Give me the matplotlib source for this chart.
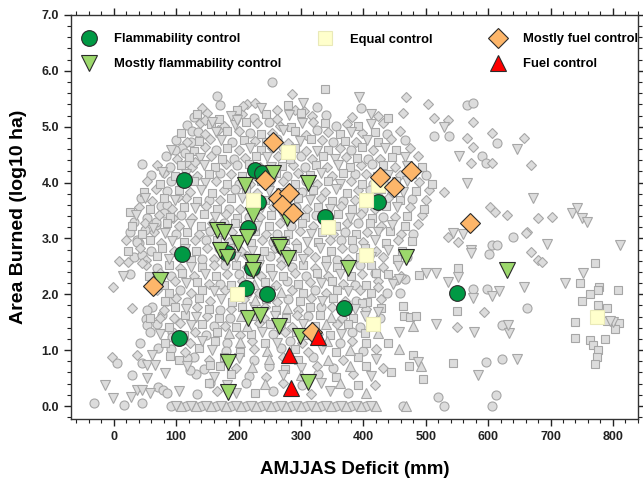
import matplotlib
matplotlib.use("Agg")
import matplotlib.pyplot as plt
from matplotlib.lines import Line2D
from matplotlib.ticker import MultipleLocator, FormatStrFormatter

plt.rcParams['font.family'] = ['Liberation Sans', 'DejaVu Sans']
plt.rcParams['font.weight'] = 'bold'

# ---- background (grey) fire-year points, by marker shape ----
gray_circles = [
    (170, 5.38), (326, 5.36), (128, 5.18), (224, 5.15), (340, 5.21),
    (118, 5.03), (248, 5.08), (356, 5.02), (126, 4.92), (218, 4.89), (326, 4.94), (438, 4.86),
    (100, 4.77), (190, 4.73), (262, 4.78), (352, 4.72), (466, 4.76),
    (110, 4.62), (164, 4.59), (272, 4.63), (380, 4.58),
    (84, 4.47), (192, 4.43), (300, 4.48), (408, 4.42),
    (90, 4.27), (198, 4.32), (306, 4.28), (414, 4.33),
    (60, 4.13), (170, 4.17), (278, 4.12), (386, 4.16), (500, 4.13),
    (92, 4.03), (200, 3.98), (308, 4.02), (416, 3.97),
    (86, 3.84), (194, 3.88), (302, 3.83), (410, 3.87),
    (44, 3.72), (152, 3.68), (260, 3.73), (368, 3.67), (478, 3.71),
    (76, 3.58), (184, 3.53), (292, 3.57), (400, 3.52),
    (54, 3.37), (108, 3.42), (216, 3.38), (324, 3.42), (432, 3.38),
    (68, 3.24), (176, 3.28), (284, 3.23), (392, 3.27),
    (26, 3.12), (100, 3.08), (154, 3.13), (262, 3.07), (370, 3.12), (480, 3.08),
    (40, 2.92), (148, 2.97), (256, 2.93), (364, 2.98),
    (60, 2.77), (168, 2.82), (276, 2.78), (384, 2.83),
    (32, 2.67), (142, 2.63), (250, 2.68), (358, 2.62), (470, 2.66),
    (70, 2.47), (178, 2.52), (286, 2.48), (394, 2.53),
    (92, 2.32), (200, 2.37), (308, 2.33), (418, 2.38),
    (62, 2.22), (170, 2.18), (278, 2.23), (386, 2.17),
    (106, 2.08), (214, 2.02), (322, 2.07), (438, 2.03),
    (118, 1.87), (280, 1.92), (388, 1.88),
    (62, 1.77), (170, 1.72), (332, 1.78),
    (78, 1.63), (186, 1.58), (312, 1.62), (426, 1.58),
    (70, 1.47), (160, 1.43), (268, 1.48), (394, 1.42),
    (94, 1.32), (148, 1.27), (256, 1.28), (382, 1.32),
    (102, 1.17), (182, 1.12), (282, 1.17), (362, 1.12),
    (92, 1.02), (180, 0.98), (268, 1.03), (400, 0.98),
    (128, 0.87), (224, 0.83), (320, 0.87),
    (144, 0.67), (248, 0.72), (352, 0.68),
    (132, 0.57), (216, 0.53), (328, 0.57),
    (212, 0.42), (302, 0.38), (134, 0.22), (256, 0.27), (376, 0.23),
    (92, 0), (116, 0), (140, 0), (164, 0), (188, 0), (212, 0), (236, 0), (260, 0),
    (284, 0), (308, 0), (332, 0), (356, 0), (380, 0), (404, 0),
    # outer points
    (165, 5.55), (253, 5.80), (45, 4.34), (98, 4.58), (114, 4.53), (123, 4.72), (135, 4.90),
    (119, 4.35), (85, 3.60), (80, 3.45), (67, 3.29), (50, 3.15), (38, 2.98), (32, 3.30),
    (566, 5.38), (575, 5.42), (397, 5.33), (513, 4.83), (538, 4.83), (614, 4.70), (590, 4.47),
    (596, 4.35), (607, 2.88), (615, 2.88), (640, 3.02), (601, 2.72), (663, 1.75), (575, 2.09),
    (599, 2.09), (458, 2.02), (453, 2.25), (466, 2.27), (623, 1.45), (622, 0.84), (596, 0.79),
    (519, 0.16), (529, 0.0), (612, 0.20), (607, 0.0), (463, 0.0), (38, 2.93), (46, 2.70),
    (26, 2.36), (54, 1.72), (51, 1.56), (53, 1.45), (58, 1.32), (42, 1.13), (71, 1.04),
    (5, 0.77), (45, 0.77), (30, 0.55), (-32, 0.05), (16, 0.02), (46, 0.05), (71, 0.34),
    (79, 0.29), (85, 0.23), (85, 1.88), (93, 1.88), (93, 1.23), (117, 0.86), (122, 0.64),
    (155, 0.41),
]

gray_diamonds = [
    (142, 5.33), (214, 5.41), (262, 5.30), (305, 5.28),
    (150, 5.24), (206, 5.23), (262, 5.14), (318, 5.19), (382, 5.17),
    (138, 5.07), (176, 5.01), (230, 5.06), (266, 5.02), (320, 5.09), (374, 5.04), (432, 5.06),
    (146, 4.87), (200, 4.92), (254, 4.88), (308, 4.85), (344, 4.91), (398, 4.88), (458, 4.93),
    (118, 4.72), (154, 4.78), (226, 4.74), (280, 4.71), (334, 4.77), (388, 4.73), (444, 4.78),
    (146, 4.63), (200, 4.58), (254, 4.61), (308, 4.57), (362, 4.62), (416, 4.59), (474, 4.61),
    (102, 4.42), (156, 4.47), (210, 4.44), (264, 4.48), (318, 4.43), (372, 4.46), (426, 4.42), (488, 4.47),
    (70, 4.32), (126, 4.28), (180, 4.33), (234, 4.27), (288, 4.31), (342, 4.28), (396, 4.32), (450, 4.27),
    (80, 4.17), (134, 4.12), (188, 4.16), (242, 4.13), (296, 4.17), (350, 4.12), (404, 4.16), (458, 4.13),
    (54, 4.02), (110, 3.98), (164, 4.03), (218, 3.97), (272, 4.02), (326, 3.98), (380, 4.03), (434, 3.97), (490, 4.01),
    (68, 3.88), (122, 3.83), (176, 3.87), (230, 3.82), (284, 3.88), (338, 3.83), (392, 3.87), (446, 3.82), (506, 3.86),
    (62, 3.67), (116, 3.72), (170, 3.68), (224, 3.73), (278, 3.67), (332, 3.72), (386, 3.68), (440, 3.73), (500, 3.69),
    (40, 3.57), (94, 3.52), (148, 3.58), (202, 3.53), (256, 3.57), (310, 3.52), (364, 3.58), (418, 3.53), (474, 3.57),
    (72, 3.42), (126, 3.37), (180, 3.43), (234, 3.38), (288, 3.42), (342, 3.37), (396, 3.43), (450, 3.38), (494, 3.42),
    (50, 3.28), (104, 3.23), (158, 3.27), (212, 3.22), (266, 3.28), (320, 3.23), (374, 3.27), (428, 3.22), (488, 3.26),
    (64, 3.12), (136, 3.07), (190, 3.12), (244, 3.08), (298, 3.13), (352, 3.07), (406, 3.12), (460, 3.08),
    (20, 2.97), (76, 2.92), (130, 2.98), (184, 2.93), (238, 2.97), (292, 2.92), (346, 2.98), (400, 2.93), (456, 2.97),
    (42, 2.83), (96, 2.78), (150, 2.82), (204, 2.77), (258, 2.83), (312, 2.78), (366, 2.82), (420, 2.78),
    (52, 2.62), (106, 2.67), (160, 2.63), (214, 2.68), (268, 2.62), (322, 2.67), (376, 2.63), (432, 2.67),
    (52, 2.52), (106, 2.47), (160, 2.53), (214, 2.48), (268, 2.52), (322, 2.47), (376, 2.53), (432, 2.48),
    (74, 2.38), (128, 2.33), (182, 2.37), (236, 2.32), (290, 2.38), (344, 2.33), (398, 2.37), (460, 2.33),
    (98, 2.23), (152, 2.18), (206, 2.23), (260, 2.17), (314, 2.22), (368, 2.18), (424, 2.23),
    (70, 2.07), (124, 2.02), (178, 2.08), (232, 2.03), (286, 2.07), (340, 2.02), (394, 2.08),
    (100, 1.93), (154, 1.88), (208, 1.92), (262, 1.87), (316, 1.93), (370, 1.88), (428, 1.92),
    (80, 1.72), (134, 1.77), (188, 1.73), (242, 1.78), (296, 1.72), (350, 1.77), (404, 1.73),
    (96, 1.57), (150, 1.62), (240, 1.57), (294, 1.63), (366, 1.58),
    (106, 1.48), (178, 1.43), (232, 1.48), (286, 1.42), (358, 1.46), (418, 1.43),
    (130, 1.33), (202, 1.27), (274, 1.33), (328, 1.28),
    (122, 1.12), (222, 1.17), (302, 1.13), (382, 1.17),
    (114, 0.97), (224, 1.02), (312, 0.97), (420, 1.02),
    (152, 0.82), (272, 0.87), (368, 0.83),
    (196, 0.68), (326, 0.72), (432, 0.68),
    (244, 0.52), (384, 0.57), (272, 0.42), (418, 0.38), (166, 0.27), (316, 0.22),
    # outer points
    (285, 5.58), (290, 5.30), (207, 5.37), (226, 5.42), (147, 5.12), (167, 4.94), (130, 4.37),
    (103, 3.74), (95, 3.36), (469, 5.53), (503, 5.40), (423, 5.19), (463, 5.24), (514, 5.15),
    (535, 5.12), (575, 5.08), (606, 4.88), (657, 4.79), (607, 4.35), (668, 4.31), (566, 4.79),
    (575, 4.63), (573, 4.35), (530, 3.83), (603, 3.56), (611, 3.47), (630, 3.42), (680, 3.36),
    (702, 3.38), (662, 3.11), (668, 2.75), (680, 2.61), (686, 2.58), (660, 3.10), (535, 3.02),
    (551, 2.93), (593, 1.68), (550, 1.41), (423, 2.13), (8, 2.59), (22, 2.58), (45, 2.56),
    (-2, 2.13), (30, 1.75), (74, 1.57), (-3, 0.88), (38, 0.91),
]

gray_squares = [
    (198, 5.30), (280, 5.39), (168, 5.13), (244, 5.22), (300, 5.25), (440, 5.16),
    (156, 5.05), (212, 5.09), (284, 5.00), (338, 5.06), (392, 5.01),
    (108, 4.88), (182, 4.93), (236, 4.86), (290, 4.92), (362, 4.87), (418, 4.91),
    (136, 4.74), (208, 4.77), (244, 4.72), (316, 4.78), (370, 4.74), (424, 4.72),
    (128, 4.57), (182, 4.61), (236, 4.58), (290, 4.62), (344, 4.59), (398, 4.63), (452, 4.58),
    (120, 4.46), (174, 4.42), (228, 4.47), (282, 4.43), (336, 4.48), (390, 4.44), (446, 4.46),
    (108, 4.31), (162, 4.27), (216, 4.33), (270, 4.29), (324, 4.32), (378, 4.27), (432, 4.31), (494, 4.28),
    (98, 4.12), (152, 4.16), (206, 4.12), (260, 4.17), (314, 4.13), (368, 4.17), (422, 4.12), (478, 4.16),
    (74, 3.97), (128, 4.02), (182, 3.98), (236, 4.03), (290, 3.97), (344, 4.02), (398, 3.98), (452, 4.03), (510, 3.98),
    (48, 3.83), (104, 3.87), (158, 3.82), (212, 3.88), (266, 3.83), (320, 3.87), (374, 3.82), (428, 3.88), (484, 3.84),
    (80, 3.72), (134, 3.67), (188, 3.73), (242, 3.68), (296, 3.72), (350, 3.67), (404, 3.73), (458, 3.68),
    (58, 3.52), (112, 3.57), (166, 3.53), (220, 3.58), (274, 3.52), (328, 3.57), (382, 3.53), (436, 3.58), (498, 3.53),
    (90, 3.38), (144, 3.43), (198, 3.37), (252, 3.42), (306, 3.38), (360, 3.43), (414, 3.37), (470, 3.41),
    (30, 3.23), (86, 3.27), (140, 3.22), (194, 3.28), (248, 3.23), (302, 3.27), (356, 3.22), (410, 3.28), (466, 3.23),
    (46, 3.07), (118, 3.12), (172, 3.08), (226, 3.13), (280, 3.07), (334, 3.12), (388, 3.08), (442, 3.13),
    (58, 2.98), (112, 2.93), (166, 2.97), (220, 2.92), (274, 2.98), (328, 2.93), (382, 2.97), (436, 2.92), (478, 2.96),
    (22, 2.78), (78, 2.83), (132, 2.77), (186, 2.82), (240, 2.78), (294, 2.83), (348, 2.77), (402, 2.82), (462, 2.78),
    (70, 2.68), (124, 2.62), (178, 2.67), (232, 2.63), (286, 2.68), (340, 2.62), (394, 2.67), (454, 2.63),
    (88, 2.53), (142, 2.48), (196, 2.52), (250, 2.47), (304, 2.53), (358, 2.48), (412, 2.52),
    (56, 2.33), (110, 2.38), (164, 2.32), (218, 2.37), (272, 2.33), (326, 2.38), (380, 2.32), (440, 2.37),
    (80, 2.17), (134, 2.22), (188, 2.17), (242, 2.22), (296, 2.18), (350, 2.23), (404, 2.17),
    (88, 2.02), (142, 2.07), (196, 2.03), (250, 2.08), (304, 2.02), (358, 2.07), (412, 2.03),
    (82, 1.88), (136, 1.93), (190, 1.87), (244, 1.92), (298, 1.88), (352, 1.93), (406, 1.87),
    (98, 1.77), (152, 1.73), (206, 1.78), (260, 1.72), (314, 1.77), (368, 1.73), (428, 1.76),
    (58, 1.58), (114, 1.63), (168, 1.57), (222, 1.62), (276, 1.58), (330, 1.63), (384, 1.57),
    (88, 1.42), (142, 1.47), (196, 1.42), (250, 1.47), (322, 1.43), (376, 1.47),
    (112, 1.27), (166, 1.32), (220, 1.28), (292, 1.32), (346, 1.27), (402, 1.31),
    (82, 1.13), (162, 1.17), (242, 1.12), (322, 1.17), (404, 1.13),
    (136, 1.03), (202, 0.97), (290, 1.02), (356, 0.97),
    (104, 0.83), (176, 0.87), (296, 0.83), (392, 0.88),
    (170, 0.72), (274, 0.67), (404, 0.72),
    (188, 0.57), (356, 0.52), (152, 0.42), (392, 0.38), (226, 0.23),
    # outer points
    (338, 5.67), (133, 5.22), (26, 3.47), (772, 2.56), (748, 2.20), (777, 2.13), (776, 2.08),
    (764, 2.00), (808, 2.08), (750, 1.88), (776, 1.81), (791, 1.75), (740, 1.50), (809, 1.48),
    (804, 1.37), (739, 1.22), (763, 1.18), (768, 1.09), (776, 1.00), (774, 0.88), (771, 0.75),
    (788, 1.20), (780, 1.55), (790, 1.52), (543, 0.77), (495, 0.48), (445, 0.61), (551, 2.47),
    (550, 1.70), (463, 1.79), (465, 1.61), (474, 1.59), (485, 1.61), (439, 1.13), (480, 0.91),
    (473, 0.72), (421, 2.38), (398, 1.84), (489, 2.34), (90, 0.89), (154, 0.73),
]

gray_down = [
    (236, 5.34), (188, 5.20), (281, 5.21), (412, 5.23), (194, 5.03), (302, 5.07), (412, 5.05),
    (164, 4.91), (272, 4.94), (380, 4.90), (172, 4.76), (298, 4.74), (406, 4.77),
    (92, 4.58), (218, 4.62), (326, 4.57), (434, 4.61), (138, 4.44), (246, 4.46), (354, 4.42), (466, 4.45),
    (144, 4.32), (252, 4.28), (360, 4.31), (470, 4.29), (116, 4.16), (224, 4.13), (332, 4.17), (440, 4.14),
    (146, 3.99), (254, 4.03), (362, 3.98), (470, 4.02), (140, 3.86), (248, 3.84), (356, 3.88), (464, 3.83),
    (98, 3.69), (206, 3.72), (314, 3.68), (422, 3.72), (130, 3.54), (238, 3.57), (346, 3.53), (454, 3.56),
    (36, 3.42), (162, 3.38), (270, 3.43), (378, 3.37), (122, 3.26), (230, 3.22), (338, 3.27), (446, 3.24),
    (82, 3.09), (208, 3.11), (316, 3.08), (424, 3.12), (94, 2.95), (202, 2.98), (310, 2.93), (418, 2.97),
    (114, 2.81), (222, 2.78), (330, 2.82), (440, 2.79), (88, 2.64), (196, 2.66), (304, 2.63), (412, 2.67),
    (124, 2.49), (232, 2.52), (340, 2.48), (456, 2.51), (146, 2.36), (254, 2.33), (362, 2.37),
    (116, 2.20), (332, 2.21), (448, 2.19), (160, 2.05), (376, 2.06), (172, 1.91), (334, 1.88),
    (116, 1.74), (224, 1.77), (386, 1.74), (132, 1.60), (258, 1.62), (402, 1.61),
    (124, 1.45), (304, 1.47), (74, 1.28), (238, 1.32), (364, 1.28), (142, 1.16), (262, 1.13),
    (158, 1.00), (334, 1.02), (200, 0.86), (420, 0.84), (118, 0.72), (300, 0.68),
    (160, 0.52), (272, 0.56), (412, 0.53), (182, 0.38), (332, 0.42), (104, 0.27), (196, 0.23), (346, 0.27),
    (100, 0), (124, 0), (148, 0), (172, 0), (196, 0), (220, 0), (244, 0), (268, 0),
    (292, 0), (316, 0), (340, 0), (364, 0), (388, 0), (412, 0),
    # outer points
    (303, 5.42), (157, 5.08), (197, 5.12), (78, 4.19), (50, 3.72), (63, 3.18), (393, 5.53),
    (530, 5.00), (647, 4.60), (553, 4.47), (566, 4.00), (672, 3.72), (734, 3.45), (742, 3.54),
    (750, 3.36), (758, 3.29), (695, 2.90), (811, 2.88), (752, 2.38), (724, 2.20), (800, 1.50),
    (795, 1.52), (646, 0.84), (583, 0.55), (575, 1.93), (607, 1.97), (617, 2.06), (657, 2.13),
    (633, 1.31), (632, 1.45), (577, 1.32), (516, 1.47), (457, 1.32), (457, 2.27), (500, 2.38),
    (517, 2.38), (535, 2.22), (551, 2.31), (573, 2.79), (573, 2.74), (543, 3.10), (559, 3.07),
    (488, 0.79), (423, 1.68), (15, 2.33), (62, 0.91), (54, 0.73), (66, 0.73), (53, 0.50),
    (82, 0.59), (-14, 0.38), (-2, 0.14), (27, 0.16), (37, 0.29), (45, 0.29), (58, 0.23),
]

gray_up = [
    (224, 2.18), (268, 2.04), (226, 1.90), (278, 1.76), (204, 1.61), (348, 1.59),
    (214, 1.44), (340, 1.46), (184, 1.30), (310, 1.29), (424, 1.30), (202, 1.14), (342, 1.16),
    (246, 0.99), (378, 1.01), (248, 0.85), (344, 0.83), (222, 0.70), (378, 0.71), (300, 0.55),
    (242, 0.39), (362, 0.41), (286, 0.26), (404, 0.24),
    (108, 0), (132, 0), (156, 0), (180, 0), (204, 0), (228, 0), (252, 0), (276, 0),
    (300, 0), (324, 0), (348, 0), (372, 0), (396, 0), (420, 0),
    (469, 0.0), (480, 1.43), (457, 1.02), (492, 0.72),
]

# ---- highlighted fires, by class ----
flam_x = [112, 109, 104, 226, 237, 231, 215, 212, 245, 369, 550, 338, 423, 181, 221]
flam_y = [4.04, 2.72, 1.22, 4.22, 4.17, 3.65, 3.18, 2.11, 2.00, 1.75, 2.02, 3.38, 3.65, 2.73, 2.47]

mflam_x = [74, 210, 255, 311, 223, 277, 165, 176, 199, 213, 263, 170, 181, 221, 223, 266, 279,
           215, 234, 265, 298, 183, 183, 311, 375, 469, 630]
mflam_y = [2.25, 3.95, 4.17, 4.00, 3.42, 3.36, 3.15, 3.12, 2.92, 3.02, 2.88, 2.79, 2.67, 2.58, 2.43,
           2.85, 2.65, 1.57, 1.63, 1.43, 1.25, 0.79, 0.25, 0.43, 2.47, 2.67, 2.43]

equal_x = [279, 223, 343, 404, 423, 197, 404, 415, 774]
equal_y = [4.55, 3.68, 3.20, 3.68, 3.95, 2.00, 2.70, 1.47, 1.59]

mfuel_x = [255, 243, 263, 281, 269, 288, 426, 449, 477, 571, 63, 317]
mfuel_y = [4.72, 4.04, 3.72, 3.81, 3.60, 3.45, 4.10, 3.92, 4.20, 3.27, 2.15, 1.32]

fuel_x = [281, 327, 284]
fuel_y = [0.91, 1.24, 0.32]

fig = plt.figure(figsize=(6.43, 4.82), dpi=100)
ax = fig.add_axes([0.110, 0.131, 0.882, 0.838])

gface = '#dcdcdc'
gedge = '#a6a6a6'
for pts, mk, ms in [(gray_circles, 'o', 6.5), (gray_diamonds, 'D', 5.0), (gray_squares, 's', 5.2),
                    (gray_down, 'v', 6.5), (gray_up, '^', 6.5)]:
    xs = [p[0] for p in pts]
    ys = [p[1] for p in pts]
    ax.plot(xs, ys, ls='none', marker=mk, ms=ms, mfc=gface, mec=gedge, mew=0.8)

ec = '#2b2b2b'
ax.plot(flam_x, flam_y, ls='none', marker='o', ms=11.3, mfc='#009944', mec=ec, mew=0.8)
ax.plot(mflam_x, mflam_y, ls='none', marker='v', ms=11.3, mfc='#9cd86c', mec=ec, mew=0.8)
ax.plot(equal_x, equal_y, ls='none', marker='s', ms=9.6, mfc='#ffffcc', mec='#e9e9b8', mew=0.8)
ax.plot(mfuel_x, mfuel_y, ls='none', marker='D', ms=10.0, mfc='#fdb66a', mec=ec, mew=0.8)
ax.plot(fuel_x, fuel_y, ls='none', marker='^', ms=11.3, mfc='#ff0000', mec=ec, mew=0.8)

ax.set_xlim(-69, 840)
ax.set_ylim(-0.23, 7.0)
ax.xaxis.set_major_locator(MultipleLocator(100))
ax.xaxis.set_minor_locator(MultipleLocator(20))
ax.yaxis.set_major_locator(MultipleLocator(1))
ax.yaxis.set_minor_locator(MultipleLocator(0.2))
ax.yaxis.set_major_formatter(FormatStrFormatter('%.1f'))
ax.set_xticks(range(0, 801, 100))
ax.tick_params(which='both', left=True, bottom=True, top=True, right=True,
               labelsize=9, direction='out', colors='#222222')
ax.tick_params(which='major', length=5, width=1)
ax.tick_params(which='minor', length=3, width=0.8)
for lab in ax.get_xticklabels() + ax.get_yticklabels():
    lab.set_fontweight('bold')
for s in ax.spines.values():
    s.set_color('#333333')
    s.set_linewidth(1)

ax.set_xlabel('AMJJAS Deficit (mm)', fontsize=13.5, fontweight='bold', labelpad=13)
ax.set_ylabel('Area Burned (log10 ha)', fontsize=14, fontweight='bold', labelpad=10)

def handle(mk, ms, fc, mec):
    return Line2D([], [], ls='none', marker=mk, ms=ms, mfc=fc, mec=mec, mew=0.8)

leg_kw = dict(frameon=False, loc='upper left', borderpad=0, handlelength=1.2, handletextpad=1.25,
              labelspacing=0.98, prop={'weight': 'bold', 'size': 9.4}, numpoints=1,
              bbox_transform=fig.transFigure)
l1 = ax.legend([handle('o', 11.3, '#009944', ec), handle('v', 11.3, '#9cd86c', ec)],
               ['Flammability control', 'Mostly flammability control'],
               bbox_to_anchor=(75 / 643, 1 - 26.5 / 482), **leg_kw)
ax.add_artist(l1)
l2 = ax.legend([handle('s', 9.6, '#ffffcc', '#e9e9b8')], ['Equal control'],
               bbox_to_anchor=(311 / 643, 1 - 27 / 482), **leg_kw)
ax.add_artist(l2)
ax.legend([handle('D', 10.0, '#fdb66a', ec), handle('^', 11.3, '#ff0000', ec)],
          ['Mostly fuel control', 'Fuel control'],
          bbox_to_anchor=(484 / 643, 1 - 26.5 / 482), **leg_kw)

fig.savefig('out.png', dpi=100)
